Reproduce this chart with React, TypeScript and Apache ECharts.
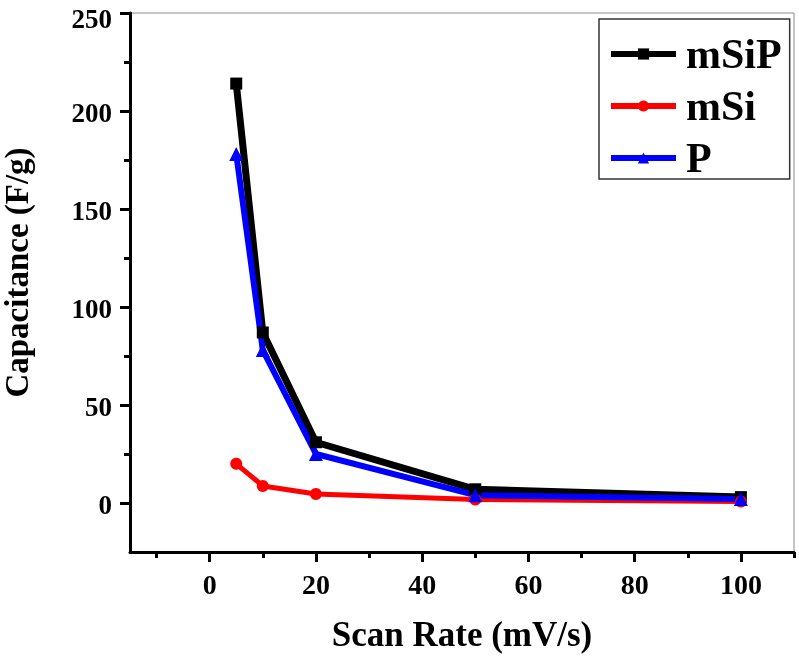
import React, { useEffect, useRef } from "react";
import * as echarts from "echarts";

const scanRates = [5, 10, 20, 50, 100];
const mSiP = [214, 87, 31, 7, 3];
const mSi = [20, 8.7, 4.6, 1.8, 0.8];
const P = [178, 78, 25, 4, 2];

const xMajorTicks = [0, 20, 40, 60, 80, 100];
const xMinorTicks = [-10, 10, 30, 50, 70, 90, 110];
const yMajorTicks = [0, 50, 100, 150, 200, 250];
const yMinorTicks = [25, 75, 125, 175, 225];

const FONT = "'Liberation Serif', 'Times New Roman', serif";

export default function App() {
  const ref = useRef<HTMLDivElement>(null);
  useEffect(() => {
    const chart = echarts.init(ref.current!, null, { renderer: "svg" });
    const pts = (ys: number[]) => scanRates.map((x, i) => [x, ys[i]]);
    const axisLine = { show: true, onZero: false, lineStyle: { color: "#000", width: 3 } };
    const labelStyle = {
      color: "#000",
      fontFamily: FONT,
      fontWeight: "bold" as const,
      fontSize: 28,
    };
    const yTop = yMajorTicks[yMajorTicks.length - 1];
    chart.setOption({
      animation: false,
      grid: {
        left: 130,
        right: 5,
        top: 13,
        bottom: 106,
        outerBoundsMode: "none",
        containLabel: false,
        show: true,
        borderColor: "#8a8a8a",
        borderWidth: 1,
        backgroundColor: "#fff",
      },
      legend: {
        left: 599,
        top: 19,
        orient: "vertical",
        padding: [14, 8, 0, 9],
        itemGap: 10,
        itemWidth: 65,
        itemHeight: 14,
        borderColor: "#333",
        borderWidth: 1.5,
        backgroundColor: "#fff",
        lineStyle: { width: 6 },
        textStyle: {
          color: "#000",
          fontFamily: FONT,
          fontWeight: "bold",
          fontSize: 42,
          lineHeight: 40,
          padding: [0, 0, 0, 5],
        },
        data: ["mSiP", "mSi", "P"],
      },
      xAxis: [
        {
          type: "value",
          min: -15,
          max: 110,
          position: "bottom",
          axisLine,
          splitLine: { show: false },
          axisTick: {
            show: true,
            inside: false,
            length: 10,
            lineStyle: { color: "#000", width: 3 },
            customValues: xMajorTicks,
          },
          axisLabel: { ...labelStyle, lineHeight: 24, margin: 20, customValues: xMajorTicks },
          name: "Scan Rate (mV/s)",
          nameLocation: "middle",
          nameGap: 65,
          nameTextStyle: { ...labelStyle, fontSize: 35 },
        },
        {
          type: "value",
          min: -15,
          max: 110,
          position: "bottom",
          axisLine: { show: false, onZero: false },
          splitLine: { show: false },
          axisTick: {
            show: true,
            inside: false,
            length: 6,
            lineStyle: { color: "#000", width: 3 },
            customValues: xMinorTicks,
          },
          axisLabel: { show: false },
        },
      ],
      yAxis: [
        {
          type: "value",
          min: -25,
          max: 250,
          position: "left",
          axisLine,
          splitLine: { show: false },
          axisTick: {
            show: true,
            inside: false,
            length: 10,
            lineStyle: { color: "#000", width: 3 },
            customValues: yMajorTicks,
          },
          axisLabel: {
            ...labelStyle,
            fontSize: 27,
            lineHeight: 24,
            padding: [3, 0, 0, 0],
            margin: 18,
            customValues: yMajorTicks,
            formatter: (v: number) => (v === yTop ? `{top|${v}}` : `${v}`),
            rich: {
              top: {
                ...labelStyle,
                fontSize: 27,
                lineHeight: 24,
                padding: [8, 0, 0, 0],
              },
            },
          },
          name: "Capacitance (F/g)",
          nameLocation: "middle",
          nameGap: 97,
          nameTextStyle: {
            ...labelStyle,
            fontSize: 33,
            lineHeight: 32,
            padding: [0, 0, 0, 20],
          },
        },
        {
          type: "value",
          min: -25,
          max: 250,
          position: "left",
          axisLine: { show: false, onZero: false },
          splitLine: { show: false },
          axisTick: {
            show: true,
            inside: false,
            length: 6,
            lineStyle: { color: "#000", width: 3 },
            customValues: yMinorTicks,
          },
          axisLabel: { show: false },
        },
      ],
      series: [
        {
          name: "mSiP",
          type: "line",
          data: pts(mSiP),
          symbol: "rect",
          symbolSize: 12,
          lineStyle: { color: "#000", width: 7 },
          itemStyle: { color: "#000" },
        },
        {
          name: "mSi",
          type: "line",
          data: pts(mSi),
          symbol: "circle",
          symbolSize: 12,
          lineStyle: { color: "#ff0000", width: 5 },
          itemStyle: { color: "#ff0000" },
        },
        {
          name: "P",
          type: "line",
          data: pts(P),
          symbol: "triangle",
          symbolSize: 14,
          lineStyle: { color: "#0000ff", width: 6 },
          itemStyle: { color: "#0000ff" },
        },
      ],
    });
    return () => chart.dispose();
  }, []);
  return (
    <div
      ref={ref}
      style={{ position: "fixed", left: 0, top: 0, width: 799, height: 658 }}
    />
  );
}
